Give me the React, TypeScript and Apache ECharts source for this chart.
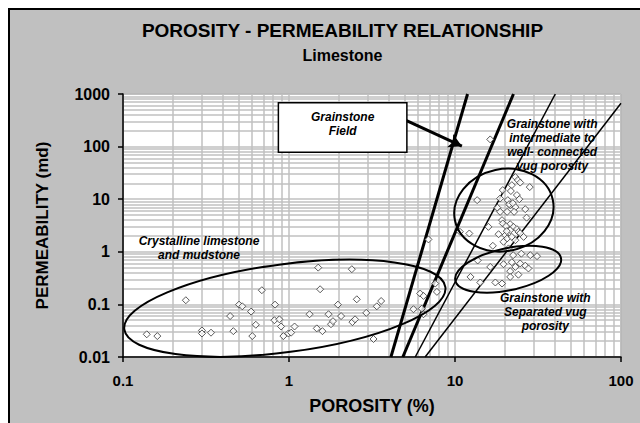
import React, { useEffect, useRef } from "react";
import * as echarts from "echarts";

// ---- tick labels ----
const xTicks = [0.1, 1, 10, 100];
const yTicks = [0.01, 0.1, 1, 10, 100, 1000];

// ---- data: [porosity %, permeability md] ----
const crystalline: number[][] = [
  [0.139, 0.027], [0.161, 0.025], [0.239, 0.12], [0.299, 0.032], [0.299, 0.028],
  [0.339, 0.029], [0.442, 0.06], [0.462, 0.031], [0.5, 0.099], [0.523, 0.092],
  [0.591, 0.073], [0.601, 0.025], [0.631, 0.041], [0.686, 0.186], [0.824, 0.099],
  [0.817, 0.05], [0.875, 0.052], [0.896, 0.038], [0.925, 0.025], [0.992, 0.028],
  [1.03, 0.029], [1.08, 0.038], [1.33, 0.065], [1.47, 0.035], [1.5, 0.5],
  [1.54, 0.194], [1.59, 0.031], [1.73, 0.065], [1.79, 0.042], [1.84, 0.048],
  [1.97, 0.099], [2.06, 0.06], [2.39, 0.467], [2.41, 0.046], [2.5, 0.052],
  [2.56, 0.125], [2.92, 0.069], [3.23, 0.022], [3.38, 0.092], [3.59, 0.116],
];

const transitional: number[][] = [
  [5.62, 0.081], [6.17, 0.161], [6.46, 0.145], [6.31, 0.083], [6.46, 0.065],
  [7.78, 0.173], [7.6, 0.249], [6.92, 1.72], [10.7, 2.41], [12.2, 2.23],
  [12.4, 0.333], [13.6, 9.6], [13.7, 0.684], [14.2, 0.261],
];

const grainstone: number[][] = [
  [16.3, 137], [23.1, 26.3], [23.9, 23.1], [24.7, 20.7], [28.2, 17.0],
  [22.0, 18.5], [19.4, 14.9], [21.7, 14.3], [18.7, 10.3], [20.8, 9.6],
  [23.6, 12.0], [24.4, 10.0], [18.0, 6.9], [21.5, 7.7], [23.1, 7.07],
  [22.7, 5.75], [26.5, 6.47], [18.7, 5.75], [20.6, 5.75], [27.0, 4.46],
  [19.2, 4.0], [15.9, 2.98], [19.4, 3.46], [21.5, 3.35], [22.5, 2.98],
  [23.6, 2.7], [24.1, 2.39], [18.3, 2.16], [20.1, 2.07], [20.6, 1.79],
  [22.0, 1.92], [23.1, 1.66], [25.9, 1.92], [19.6, 1.55], [16.9, 1.3],
  [21.0, 1.16], [16.3, 0.516], [22.4, 0.863], [25.1, 0.921], [28.4, 0.863],
  [31.2, 0.826], [22.0, 0.634], [23.1, 0.516], [26.5, 0.545], [19.6, 0.581],
  [21.5, 0.428], [24.1, 0.367], [21.5, 0.333], [17.5, 0.261], [19.2, 0.249],
  [27.7, 0.482], [24.7, 0.6], [21.2, 8.05], [22.3, 8.4], [20.3, 3.08],
  [21.5, 2.58], [20.5, 2.47], [24.7, 2.26],
];

// ---- trend lines (porosity, permeability end points) ----
const trendLines = [
  { from: [4.11, 0.01], to: [11.9, 1000], thick: true },
  { from: [4.85, 0.01], to: [22.5, 1000], thick: true },
  { from: [5.76, 0.01], to: [40.2, 1000], thick: false },
  { from: [6.61, 0.01], to: [100, 665], thick: false },
];

// ---- annotation anchors in data units ----
const ellipses = [
  { center: [0.944, 0.0845], rx: 162, ry: 44, rot: 7.5 },
  { center: [19.7, 6.2], rx: 50, ry: 41, rot: 12 },
  { center: [20.9, 0.467], rx: 54, ry: 21, rot: 12 },
];
const fieldBox = { topLeft: [0.863, 682], bottomRight: [5.13, 77.7] };
const arrow = { from: [5.03, 320], to: [11.0, 102] };
const labels = [
  { at: [0.287, 1.2], text: "Crystalline limestone\nand mudstone" },
  { at: [38.5, 107], text: "Grainstone with\nintermediate to\nwell- connected\nvug porosity" },
  { at: [35.0, 0.071], text: "Grainstone with\nSeparated vug\nporosity" },
];

const FONT = "'Liberation Sans', Arial, sans-serif";

function gridValues(lo: number, hi: number): number[] {
  const out: number[] = [];
  for (let e = lo; e < hi; e++) {
    for (let m = 1; m <= 9; m++) out.push(m * Math.pow(10, e));
  }
  out.push(Math.pow(10, hi));
  return out;
}

function fmt(ticks: number[]) {
  return (v: number) => {
    const t = ticks.find((k) => Math.abs(Math.log10(k) - Math.log10(v)) < 1e-6);
    return t === undefined ? "" : String(t);
  };
}

export default function App() {
  const ref = useRef<HTMLDivElement>(null);
  useEffect(() => {
    if (!ref.current) return;
    const chart = echarts.init(ref.current, undefined, { renderer: "svg" });
    const gridLineStyle = { color: "#c0c0c0", width: 1.5, type: "solid" as const };
    const option: any = {
      animation: false,
      grid: {
        left: 113, top: 84, width: 498, height: 263,
        show: true, backgroundColor: "#ffffff", borderColor: "#808080", borderWidth: 1,
      },
      xAxis: {
        type: "log", logBase: 10, min: 0.1, max: 100, z: 4,
        name: "POROSITY (%)", nameLocation: "middle", nameGap: 40,
        nameTextStyle: { fontFamily: FONT, fontWeight: "bold", fontSize: 18, color: "#000" },
        axisLine: { show: true, onZero: false, lineStyle: { color: "#000", width: 1.5 } },
        axisTick: { show: true, length: 5, lineStyle: { color: "#000", width: 1.5 } },
        splitLine: { show: false },
        axisLabel: {
          formatter: fmt(xTicks), fontFamily: FONT, fontWeight: "bold", fontSize: 15,
          color: "#000", margin: 16,
        },
      },
      yAxis: {
        type: "log", logBase: 10, min: 0.01, max: 1000, z: 4,
        name: "PERMEABILITY (md)", nameLocation: "middle", nameGap: 72,
        nameTextStyle: { fontFamily: FONT, fontWeight: "bold", fontSize: 17, color: "#000" },
        axisLine: { show: true, onZero: false, lineStyle: { color: "#000", width: 1.5 } },
        axisTick: { show: true, length: 5, lineStyle: { color: "#000", width: 1.5 } },
        splitLine: { show: false },
        axisLabel: {
          formatter: fmt(yTicks), fontFamily: FONT, fontWeight: "bold", fontSize: 16,
          color: "#000", margin: 13,
        },
      },
      series: [
        {
          type: "line", data: [], z: 1, silent: true,
          markLine: {
            z: 1, silent: true, symbol: ["none", "none"], label: { show: false },
            lineStyle: gridLineStyle, emphasis: { disabled: true },
            data: [
              ...gridValues(-1, 2).map((v) => ({ xAxis: v })),
              ...gridValues(-2, 3).map((v) => ({ yAxis: v })),
            ],
          },
        },
        ...trendLines.map((l) => ({
          type: "line", data: [l.from, l.to], z: 3, silent: true, symbol: "none",
          lineStyle: { color: "#000", width: l.thick ? 3 : 1.5 },
        })),
        ...[crystalline, transitional, grainstone].map((d) => ({
          type: "scatter", data: d, z: 5, symbol: "diamond", symbolSize: 7,
          itemStyle: { color: "#ffffff", borderColor: "#333333", borderWidth: 1 },
        })),
        {
          type: "line", data: [], z: 6, silent: true,
          markLine: {
            z: 6, silent: true, symbol: ["none", "arrow"], symbolSize: [11, 13],
            label: { show: false }, emphasis: { disabled: true },
            lineStyle: { color: "#000", width: 3, type: "solid" },
            data: [[{ coord: arrow.from }, { coord: arrow.to }]],
          },
        },
      ],
    };
    chart.setOption(option);

    const px = (p: number[]) => chart.convertToPixel({ gridIndex: 0 }, p) as number[];
    const tl = px(fieldBox.topLeft);
    const br = px(fieldBox.bottomRight);
    const graphic: any[] = [
      {
        type: "text", x: 332.5, y: 20, z: 100,
        style: { text: "POROSITY - PERMEABILITY RELATIONSHIP", font: `bold 19px ${FONT}`, fill: "#000", textAlign: "center", textVerticalAlign: "middle" },
      },
      {
        type: "text", x: 332.5, y: 45, z: 100,
        style: { text: "Limestone", font: `bold 16px ${FONT}`, fill: "#000", textAlign: "center", textVerticalAlign: "middle" },
      },
      ...ellipses.map((e) => {
        const c = px(e.center);
        return {
          type: "ellipse", x: c[0], y: c[1], rotation: (e.rot * Math.PI) / 180, z: 100,
          shape: { cx: 0, cy: 0, rx: e.rx, ry: e.ry },
          style: { fill: "none", stroke: "#000", lineWidth: 2 },
        };
      }),
      {
        type: "rect", z: 100,
        shape: { x: tl[0], y: tl[1], width: br[0] - tl[0], height: br[1] - tl[1] },
        style: { fill: "#fff", stroke: "#000", lineWidth: 1.5 },
      },
      {
        type: "text", x: (tl[0] + br[0]) / 2, y: (tl[1] + br[1]) / 2 - 4, z: 101,
        style: { text: "Grainstone\nField", font: `italic bold 12px ${FONT}`, lineHeight: 14, fill: "#000", textAlign: "center", textVerticalAlign: "middle" },
      },
      ...labels.map((l) => {
        const c = px(l.at);
        return {
          type: "text", x: c[0], y: c[1], z: 101,
          style: { text: l.text, font: `italic bold 12px ${FONT}`, lineHeight: 14, fill: "#000", textAlign: "center", textVerticalAlign: "middle" },
        };
      }),
    ];
    chart.setOption({ graphic });
    return () => chart.dispose();
  }, []);

  return (
    <div
      style={{
        position: "fixed", left: 8, top: 8, width: 632, height: 415, boxSizing: "border-box",
        borderLeft: "2px solid #000", borderTop: "2px solid #000", background: "#c0c0c0",
      }}
    >
      <div ref={ref} style={{ width: 630, height: 413 }} />
    </div>
  );
}
